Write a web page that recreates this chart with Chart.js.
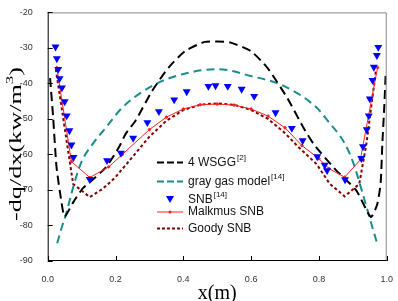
<!DOCTYPE html>
<html>
<head>
<meta charset="utf-8">
<script src="https://cdn.jsdelivr.net/npm/chart.js@4.4.0/dist/chart.umd.min.js"></script>
<style>
  html, body { margin: 0; padding: 0; background: #fff; }
  #wrap { width: 398px; height: 301px; }
</style>
</head>
<body>
<div id="wrap"><canvas id="c"></canvas></div>
<script>
// valeurs
const xTicks = [0.0, 0.2, 0.4, 0.6, 0.8, 1.0];
const yTicks = [-20, -30, -40, -50, -60, -70, -80, -90];

const xSnb = [0.023, 0.027, 0.031, 0.035, 0.042, 0.05, 0.056, 0.064, 0.07, 0.076, 0.124, 0.175, 0.216, 0.252, 0.294, 0.328, 0.373, 0.41, 0.474, 0.495, 0.531, 0.572, 0.609, 0.672, 0.72, 0.752, 0.795, 0.817, 0.824, 0.877, 0.925, 0.93, 0.941, 0.947, 0.95, 0.958, 0.962, 0.971, 0.975];
const ySnb = [-29.7, -33, -36, -38.6, -41.2, -45.1, -49.1, -53.3, -57.3, -60.8, -67, -61.7, -59.6, -55.4, -51, -47.9, -44.6, -42.3, -40.8, -40.6, -40.8, -41.6, -43.6, -48.2, -52.6, -56.1, -60.6, -63, -64.5, -67.1, -61.1, -57.8, -53, -49.1, -44.3, -39.1, -35.4, -32.1, -29.8];

const xWsgg = [0.007, 0.016, 0.026, 0.04, 0.05, 0.075, 0.104, 0.14, 0.172, 0.21, 0.23, 0.259, 0.308, 0.356, 0.405, 0.463, 0.5, 0.54, 0.599, 0.648, 0.706, 0.754, 0.784, 0.851, 0.91, 0.953, 0.972, 0.982, 0.987, 0.993, 0.997];
const yWsgg = [-38.5, -49.5, -63.5, -73, -77.5, -73.5, -69.5, -66.5, -63.6, -58, -54.2, -50.5, -42.1, -35.6, -30.9, -28.3, -28.2, -28.5, -30.9, -35.6, -44, -52.4, -57, -64.5, -70.1, -77.6, -74, -68, -57, -46, -37];

const xGray = [0.028, 0.04, 0.055, 0.07, 0.085, 0.1, 0.133, 0.172, 0.22, 0.318, 0.415, 0.502, 0.599, 0.696, 0.793, 0.83, 0.871, 0.9, 0.929, 0.95, 0.973];
const yGray = [-85, -81, -76.5, -71, -66, -62, -57, -52.4, -46.8, -40.2, -37, -36, -37.9, -40.7, -46.8, -51, -56.1, -62, -71, -78, -85.5];

const xMalkmus = [0.027, 0.07, 0.124, 0.18, 0.22, 0.3, 0.35, 0.4, 0.45, 0.5, 0.55, 0.6, 0.65, 0.7, 0.75, 0.8, 0.83, 0.876, 0.922, 0.973];
const yMalkmus = [-35.6, -62, -66.5, -63.5, -60, -53, -49.5, -47.2, -46, -45.8, -46.1, -47.2, -49.2, -52.5, -57.5, -61.2, -64, -66.4, -61.5, -35.5];

const xGoody = [0.024, 0.075, 0.124, 0.162, 0.2, 0.25, 0.298, 0.35, 0.4, 0.45, 0.5, 0.55, 0.6, 0.65, 0.7, 0.735, 0.793, 0.832, 0.876, 0.919, 0.94, 0.968];
const yGoody = [-36, -68.3, -72, -69.7, -66.4, -60.7, -55.2, -50.5, -47.5, -46, -45.6, -46, -47.5, -50, -54, -57.5, -62.7, -68.3, -71.8, -68.3, -57, -36.5];

function pts(xs, ys) {
    return xs.map((x, i) => ({ x: x, y: ys[i] }));
}

const SANS = "'Liberation Sans', Arial, sans-serif";
const SERIF = "'Liberation Serif', 'Times New Roman', serif";

// légende dessinée à la main (exposants)
const legendItems = [
    { text: '4 WSGG', sup: '[2]', kind: 'line', color: '#000000', dash: [7, 3], width: 2 },
    { text: 'gray gas model', sup: '[14]', kind: 'line', color: '#1a8c8c', dash: [7, 3], width: 2 },
    { text: 'SNB', sup: '[14]', kind: 'tri', color: '#0000ff' },
    { text: 'Malkmus SNB', sup: '', kind: 'dotline', color: '#ff2020', dash: [], width: 1 },
    { text: 'Goody SNB', sup: '', kind: 'line', color: '#800000', dash: [3, 2], width: 2 }
];
const legendRowsY = [162.5, 181.5, 199.5, 212, 228.5];

const decor = {
    id: 'decor',
    afterDraw(chart) {
        const ctx = chart.ctx;
        const a = chart.chartArea;
        const xs = chart.scales.x, ys = chart.scales.y;
        ctx.save();
        // cadre
        ctx.lineWidth = 1;
        ctx.strokeStyle = '#888888';
        ctx.beginPath();
        ctx.moveTo(a.left, a.top + 0.5);
        ctx.lineTo(a.right - 0.5, a.top + 0.5);
        ctx.lineTo(a.right - 0.5, a.bottom);
        ctx.stroke();
        ctx.strokeStyle = '#000000';
        ctx.beginPath();
        ctx.moveTo(a.left + 0.5, a.top);
        ctx.lineTo(a.left + 0.5, a.bottom - 0.5);
        ctx.lineTo(a.right, a.bottom - 0.5);
        ctx.stroke();
        // graduations vers l'intérieur
        ctx.beginPath();
        xTicks.forEach(v => {
            const px = Math.round(xs.getPixelForValue(v)) + 0.5;
            ctx.moveTo(px, a.bottom);
            ctx.lineTo(px, a.bottom - 5);
        });
        yTicks.forEach(v => {
            const py = Math.round(ys.getPixelForValue(v)) + 0.5;
            ctx.moveTo(a.left, py);
            ctx.lineTo(a.left + 5, py);
        });
        ctx.stroke();

        // légende
        const lx0 = 157, lx1 = 183, tx = 188;
        legendItems.forEach((it, i) => {
            const y = legendRowsY[i];
            ctx.setLineDash([]);
            if (it.kind === 'tri') {
                ctx.fillStyle = it.color;
                const cx = (lx0 + lx1) / 2;
                ctx.beginPath();
                ctx.moveTo(cx - 4, y - 3.5);
                ctx.lineTo(cx + 4, y - 3.5);
                ctx.lineTo(cx, y + 3.5);
                ctx.closePath();
                ctx.fill();
            } else {
                ctx.strokeStyle = it.color;
                ctx.lineWidth = it.width;
                ctx.setLineDash(it.dash);
                ctx.beginPath();
                ctx.moveTo(lx0, y);
                ctx.lineTo(lx1, y);
                ctx.stroke();
                ctx.setLineDash([]);
                if (it.kind === 'dotline') {
                    ctx.fillStyle = it.color;
                    ctx.beginPath();
                    ctx.arc((lx0 + lx1) / 2, y, 1.5, 0, Math.PI * 2);
                    ctx.fill();
                }
            }
            ctx.fillStyle = '#111111';
            ctx.font = '12px ' + SANS;
            ctx.textBaseline = 'middle';
            ctx.textAlign = 'left';
            ctx.fillText(it.text, tx, y);
            if (it.sup) {
                const w = ctx.measureText(it.text).width;
                ctx.font = '8px ' + SANS;
                ctx.fillText(it.sup, tx + w + 1, y - 5);
            }
        });

        // titres des axes
        ctx.fillStyle = '#000000';
        ctx.font = '20px ' + SERIF;
        ctx.textAlign = 'center';
        ctx.textBaseline = 'alphabetic';
        ctx.fillText('x(m)', (a.left + a.right) / 2, 299);

        // titre vertical, étiré comme sur la figure
        ctx.save();
        ctx.translate(21, 144);
        ctx.rotate(-Math.PI / 2);
        const main = '-dq/dx(kw/m', sup = '3', end = ')';
        ctx.font = '17px ' + SERIF;
        const wMain = ctx.measureText(main).width;
        const wEnd = ctx.measureText(end).width;
        ctx.font = '11px ' + SERIF;
        const wSup = ctx.measureText(sup).width;
        const total = wMain + wSup + wEnd;
        const k = 154 / total;
        ctx.scale(k, 1);
        ctx.textAlign = 'left';
        const x0 = -total / 2;
        ctx.font = '17px ' + SERIF;
        ctx.fillText(main, x0, 0);
        ctx.font = '11px ' + SERIF;
        ctx.fillText(sup, x0 + wMain, -8);
        ctx.font = '17px ' + SERIF;
        ctx.fillText(end, x0 + wMain + wSup, 0);
        ctx.restore();

        ctx.restore();
    }
};

const ctx = document.getElementById('c').getContext('2d');
const chart = new Chart(ctx, {
    type: 'scatter',
    data: {
        datasets: [
            {
                label: 'SNB[14]',
                data: pts(xSnb, ySnb),
                showLine: false,
                pointStyle: 'triangle',
                rotation: 180,
                pointRadius: 4.6,
                backgroundColor: '#0000ff',
                borderColor: '#0000ff',
                borderWidth: 0
            },
            {
                label: 'Malkmus SNB',
                data: pts(xMalkmus, yMalkmus),
                showLine: true,
                borderColor: '#ff2020',
                backgroundColor: '#ff2020',
                borderWidth: 1,
                pointRadius: 1.2,
                tension: 0
            },
            {
                label: 'Goody SNB',
                data: pts(xGoody, yGoody),
                showLine: true,
                borderColor: '#800000',
                borderWidth: 2,
                borderDash: [3, 2.5],
                pointRadius: 0,
                tension: 0
            },
            {
                label: '4 WSGG[2]',
                data: pts(xWsgg, yWsgg),
                showLine: true,
                borderColor: '#000000',
                borderWidth: 2,
                borderDash: [9, 5],
                pointRadius: 0,
                tension: 0.2
            },
            {
                label: 'gray gas model[14]',
                data: pts(xGray, yGray),
                showLine: true,
                borderColor: '#1a8c8c',
                borderWidth: 2,
                borderDash: [8, 5],
                pointRadius: 0,
                cubicInterpolationMode: 'monotone'
            }
        ]
    },
    options: {
        responsive: true,
        maintainAspectRatio: false,
        animation: false,
        events: [],
        layout: { padding: { left: 0, top: 11, right: 7, bottom: 0 } },
        plugins: {
            legend: { display: false },
            tooltip: { enabled: false }
        },
        scales: {
            x: {
                type: 'linear',
                min: 0,
                max: 1,
                afterFit: s => { s.height = 40; },
                afterBuildTicks: s => { s.ticks = xTicks.map(v => ({ value: v })); },
                grid: { display: false },
                border: { display: false },
                ticks: {
                    padding: 5,
                    color: '#333333',
                    font: { family: SANS, size: 9 },
                    maxRotation: 0,
                    callback: v => v.toFixed(1)
                }
            },
            y: {
                type: 'linear',
                min: -90,
                max: -20,
                afterFit: s => { s.width = 47.7; },
                afterBuildTicks: s => { s.ticks = yTicks.map(v => ({ value: v })); },
                grid: { display: false },
                border: { display: false },
                ticks: {
                    padding: 7,
                    color: '#333333',
                    font: { family: SANS, size: 9 }
                }
            }
        }
    },
    plugins: [decor]
});
</script>
</body>
</html>
